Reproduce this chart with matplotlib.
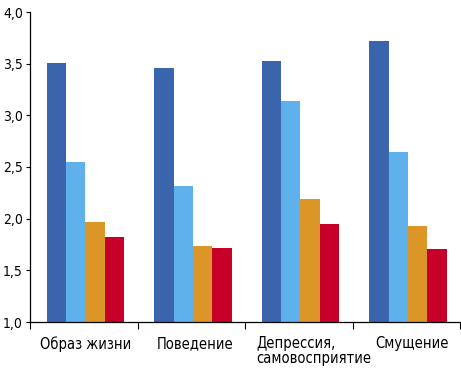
import numpy as np
import matplotlib.pyplot as plt
from matplotlib.transforms import ScaledTranslation
from matplotlib.ticker import FuncFormatter

# Data
categories = ['Образ жизни', 'Поведение', 'Депрессия,\nсамовосприятие', 'Смущение']
series1 = [3.51, 3.46, 3.53, 3.72]
series2 = [2.55, 2.32, 3.14, 2.65]
series3 = [1.97, 1.74, 2.19, 1.93]
series4 = [1.82, 1.72, 1.95, 1.71]
yticks = [1.0, 1.5, 2.0, 2.5, 3.0, 3.5, 4.0]

colors = ['#3A65AD', '#5FB1EC', '#DC9627', '#C60028']

# condensed DejaVu, close to the narrow face of the original
plt.rcParams['font.family'] = ['DejaVu Sans']
plt.rcParams['font.stretch'] = 'condensed'

fig = plt.figure(figsize=(4.61, 3.68), dpi=100)
ax = fig.add_axes([30 / 461, 46 / 368, 430 / 461, 310 / 368])

x = np.arange(len(categories))
w = 0.18
shift = 0.015
for i, vals in enumerate([series1, series2, series3, series4]):
    ax.bar(x + (i - 1.5) * w + shift, np.array(vals) - 1.0, bottom=1.0,
           width=w, color=colors[i], linewidth=0)

ax.set_xlim(-0.5, 3.5)
ax.set_ylim(1.0, 4.0)
ax.set_yticks(yticks)
ax.yaxis.set_major_formatter(FuncFormatter(lambda v, p: f'{v:.1f}'.replace('.', ',')))
ax.tick_params(axis='y', length=3, width=0.8, pad=2, labelsize=10, direction='out')

ax.set_xticks(x)
ax.set_xticklabels(categories, fontsize=10.5, linespacing=1.0)
ax.tick_params(axis='x', which='major', length=0, pad=10)
ax.set_xticks(np.arange(-0.5, 4, 1.0), minor=True)
ax.tick_params(axis='x', which='minor', length=5, width=0.8, direction='out')

offsets = [2, 4, 15, 6]
for lab, dx in zip(ax.get_xticklabels(), offsets):
    lab.set_transform(lab.get_transform() + ScaledTranslation(dx / 100, 0, fig.dpi_scale_trans))
ax.get_xticklabels()[2].set_multialignment('left')

for s in ['top', 'right']:
    ax.spines[s].set_visible(False)
for s in ['left', 'bottom']:
    ax.spines[s].set_linewidth(0.9)

fig.savefig('out.png', dpi=100)
